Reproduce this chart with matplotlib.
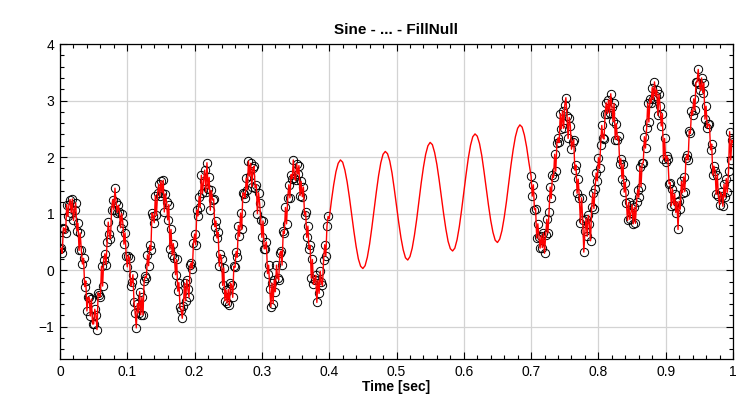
import numpy as np
import matplotlib
matplotlib.use("Agg")
from matplotlib import pyplot as plt
from matplotlib.ticker import MultipleLocator

plt.rcParams['font.family'] = ['Liberation Sans Narrow', 'Liberation Sans', 'DejaVu Sans']

# signal sampled at 600 Hz, index k -> t = k/fs
fs = 600.0
k_meas1 = np.arange(0, 240)
k_fill = np.arange(240, 420, 2)
k_meas2 = np.arange(420, 601)

# measured samples, first block (0 .. 0.398 s)
y_meas1 = [
    0.38, 0.39, 0.30, 0.75, 0.73, 0.66, 1.16, 0.95, 1.16, 1.25,
    1.02, 1.26, 0.88, 1.07, 1.19, 0.70, 0.83, 0.35, 0.66, 0.36,
    0.11, 0.21, -0.29, -0.19, -0.72, -0.48, -0.48, -0.81, -0.51, -0.95,
    -0.95, -0.69, -0.80, -1.05, -0.40, -0.44, -0.47, 0.07, -0.28, 0.18,
    0.29, 0.10, 0.50, 0.85, 0.64, 0.56, 1.07, 1.25, 1.07, 1.45,
    1.20, 1.02, 1.15, 1.03, 0.75, 1.00, 0.84, 0.46, 0.66, 0.26,
    0.06, 0.26, 0.21, -0.28, -0.21, -0.08, -0.57, -0.75, -1.02, -0.59,
    -0.75, -0.38, -0.79, -0.48, -0.79, -0.19, -0.11, -0.13, 0.27, 0.08,
    0.44, 0.35, 1.01, 0.96, 0.84, 1.32, 0.97, 1.36, 1.52, 1.31,
    1.58, 1.37, 1.59, 1.03, 1.35, 1.20, 0.89, 1.16, 0.37, 0.72,
    0.27, 0.47, 0.22, -0.08, 0.19, -0.37, -0.22, -0.65, -0.70, -0.85,
    -0.64, -0.23, -0.54, -0.17, -0.34, -0.48, 0.09, 0.13, 0.03, 0.48,
    0.64, 0.45, 1.06, 0.96, 1.30, 1.12, 1.68, 1.36, 1.58, 1.77,
    1.38, 1.90, 1.44, 1.64, 1.06, 1.41, 1.24, 1.26, 0.77, 0.87,
    0.57, 0.67, 0.07, 0.28, 0.20, -0.27, 0.04, -0.54, -0.35, -0.58,
    -0.34, -0.62, -0.23, -0.27, -0.48, 0.07, 0.05, 0.33, 0.23, 0.79,
    0.60, 1.01, 0.72, 1.37, 1.35, 1.28, 1.63, 1.42, 1.93, 1.67,
    1.89, 1.48, 1.80, 1.84, 1.46, 1.51, 1.00, 1.37, 1.18, 0.88,
    0.58, 0.87, 0.38, 0.38, 0.50, -0.06, 0.09, -0.34, -0.65, -0.23,
    -0.59, -0.17, -0.38, 0.09, -0.13, -0.17, 0.30, 0.34, 0.09, 0.69,
    0.65, 1.11, 0.82, 1.27, 1.51, 1.28, 1.69, 1.62, 1.95, 1.63,
    1.59, 1.88, 1.70, 1.85, 1.32, 1.57, 1.30, 1.47, 0.98, 1.03,
    0.58, 0.78, 0.38, 0.44, -0.14, 0.19, -0.25, -0.18, -0.09, -0.57,
    -0.18, -0.41, -0.02, -0.21, -0.27, 0.18, 0.45, 0.25, 0.78, 0.95,
]

# null samples, filled with the clean sine (0.4 .. 0.7 s)
y_fill = [
    0.91, 1.23, 1.51, 1.74, 1.89, 1.95, 1.91, 1.77, 1.56, 1.29,
    0.99, 0.69, 0.42, 0.20, 0.07, 0.03, 0.08, 0.23, 0.46, 0.75,
    1.07, 1.38, 1.67, 1.90, 2.05, 2.10, 2.06, 1.93, 1.72, 1.44,
    1.14, 0.84, 0.57, 0.36, 0.22, 0.18, 0.24, 0.39, 0.62, 0.90,
    1.22, 1.54, 1.82, 2.05, 2.20, 2.26, 2.22, 2.08, 1.87, 1.60,
    1.30, 1.00, 0.73, 0.51, 0.38, 0.34, 0.39, 0.54, 0.77, 1.06,
    1.38, 1.69, 1.98, 2.21, 2.36, 2.41, 2.37, 2.24, 2.03, 1.75,
    1.45, 1.15, 0.88, 0.67, 0.53, 0.49, 0.55, 0.70, 0.93, 1.21,
    1.53, 1.85, 2.13, 2.36, 2.51, 2.57, 2.53, 2.39, 2.18, 1.91,
]

# measured samples, second block (0.7 .. 1 s)
y_meas2 = [
    1.66, 1.31, 1.51, 1.07, 1.09, 0.57, 0.82, 0.59, 0.39, 0.61,
    0.40, 0.66, 0.30, 0.62, 0.90, 0.66, 1.03, 1.47, 1.27, 1.68,
    1.64, 2.05, 1.75, 2.25, 2.34, 2.26, 2.77, 2.50, 2.82, 2.51,
    2.92, 3.05, 2.73, 2.33, 2.70, 2.55, 2.14, 2.26, 2.31, 1.77,
    1.86, 1.36, 1.61, 1.27, 0.84, 1.28, 0.88, 0.32, 0.69, 0.91,
    0.60, 0.97, 0.81, 0.52, 1.11, 1.36, 1.09, 1.43, 1.72, 1.58,
    1.99, 1.80, 2.21, 2.56, 2.34, 2.32, 2.77, 2.96, 2.77, 3.01,
    2.78, 3.12, 2.89, 2.63, 2.95, 2.31, 2.59, 2.31, 2.37, 1.87,
    1.97, 1.62, 1.87, 1.38, 1.55, 1.18, 0.88, 1.20, 0.90, 1.02,
    1.16, 0.82, 1.11, 0.83, 1.21, 1.42, 1.29, 1.83, 1.48, 1.89,
    1.90, 2.36, 2.16, 2.51, 2.95, 2.62, 3.03, 2.96, 3.23, 3.02,
    3.33, 3.08, 3.19, 2.74, 3.11, 2.91, 2.55, 2.77, 1.97, 2.33,
    1.92, 2.02, 1.97, 1.53, 1.55, 1.14, 1.44, 1.16, 1.35, 1.02,
    1.21, 0.72, 1.22, 1.08, 1.57, 1.37, 1.65, 1.39, 1.98, 2.04,
    1.95, 2.46, 2.42, 2.82, 2.75, 3.03, 2.83, 3.32, 3.33, 3.55,
    3.30, 3.18, 3.40, 3.14, 3.31, 2.67, 2.90, 2.52, 2.58, 2.58,
    2.13, 2.23, 1.68, 1.84, 1.76, 1.34, 1.69, 1.31, 1.16, 1.38,
    1.32, 1.13, 1.52, 1.29, 1.62, 1.38, 1.75, 2.45, 1.95, 2.30, 2.26,
]

t1 = k_meas1 / fs
tf = k_fill / fs
t2 = k_meas2 / fs
t_all = np.concatenate([t1, tf, t2])
y_all = np.concatenate([y_meas1, y_fill, y_meas2])

fig = plt.figure(figsize=(7.53, 3.96), dpi=100)
ax = fig.add_axes([60/753, 1 - 359/396, 673/753, 315/396])

# data points
ax.plot(t1, y_meas1, 'o', mfc='none', mec='black', ms=6.0, mew=0.7, zorder=2)
ax.plot(t2, y_meas2, 'o', mfc='none', mec='black', ms=6.0, mew=0.7, zorder=2)
# line incl. filled nulls
ax.plot(t_all, y_all, color='red', lw=1.0, zorder=3)

ax.set_xlim(0, 1)
ax.set_ylim(-1.57, 4)
ax.xaxis.set_major_locator(MultipleLocator(0.1))
ax.xaxis.set_minor_locator(MultipleLocator(0.02))
ax.yaxis.set_major_locator(MultipleLocator(1))
ax.yaxis.set_minor_locator(MultipleLocator(0.2))
ax.set_xticks(np.arange(0, 1.01, 0.1))
ax.set_xticklabels(['0', '0.1', '0.2', '0.3', '0.4', '0.5', '0.6', '0.7', '0.8', '0.9', '1'])
ax.tick_params(which='both', direction='in', top=True, right=True, labelsize=10, width=0.8, pad=4)
ax.tick_params(which='major', length=5)
ax.tick_params(which='minor', length=3)
ax.grid(which='major', color='#d3d3d3', lw=0.9)
ax.set_axisbelow(True)
for s in ax.spines.values():
    s.set_linewidth(0.9)

ax.set_title("Sine - ... - FillNull", fontweight='bold', fontsize=11,
             family=['Liberation Sans', 'DejaVu Sans'], pad=7)
ax.set_xlabel("Time [sec]", fontweight='bold', fontsize=10,
              family=['Liberation Sans', 'DejaVu Sans'], labelpad=1)

fig.savefig("out.png", dpi=100)
